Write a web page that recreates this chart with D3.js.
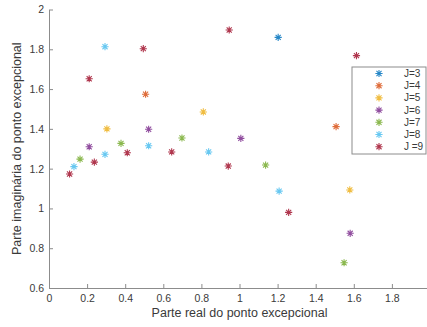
<!DOCTYPE html>
<html>
<head>
<meta charset="utf-8">
<script src="https://cdn.jsdelivr.net/npm/d3@7"></script>
<style>
  body { margin: 0; background: #fff; }
  svg { display: block; font-family: "Liberation Sans", Arial, sans-serif; }
</style>
</head>
<body>
<div id="chart"></div>
<script>
// series labels + colours (matlab default order)
const seriesNames = ['J=3', 'J=4', 'J=5', 'J=6', 'J=7', 'J=8', 'J =9'];
const seriesColors = ['#0072BD', '#D95319', '#EDB120', '#7E2F8E', '#77AC30', '#4DBEEE', '#A2142F'];

// [real, imag] points, one array per J
const j3 = [[1.203, 1.86]];
const j4 = [[0.507, 1.574], [1.507, 1.411]];
const j5 = [[0.304, 1.40], [0.81, 1.485], [1.579, 1.093]];
const j6 = [[0.211, 1.31], [0.523, 1.398], [1.007, 1.352], [1.581, 0.875]];
const j7 = [[0.163, 1.248], [0.378, 1.327], [0.698, 1.354], [1.137, 1.218], [1.549, 0.727]];
const j8 = [[0.131, 1.21], [0.294, 1.272], [0.294, 1.813], [0.523, 1.315], [0.838, 1.284], [1.208, 1.087]];
const j9 = [[0.108, 1.173], [0.238, 1.233], [0.211, 1.652], [0.411, 1.28], [0.495, 1.803],
            [0.644, 1.284], [0.941, 1.213], [0.946, 1.897], [1.258, 0.98], [1.614, 1.768]];

const xTicks = [0, 0.2, 0.4, 0.6, 0.8, 1, 1.2, 1.4, 1.6, 1.8, 2];
const yTicks = [0.6, 0.8, 1, 1.2, 1.4, 1.6, 1.8, 2];

const series = [j3, j4, j5, j6, j7, j8, j9].map((pts, i) => ({name: seriesNames[i], color: seriesColors[i], pts}));

const width = 427, height = 327;
const margin = {top: 9.5, left: 49, bottom: 39, right: -3};
const cw = width - margin.left - margin.right, ch = height - margin.top - margin.bottom;

const x = d3.scaleLinear().domain([0, 2]).range([0, cw]);
const y = d3.scaleLinear().domain([0.6, 2]).range([ch, 0]);

// matlab '*' marker: 4 crossing strokes
const star = (r) => {
  const d = r * Math.SQRT1_2;
  return `M${-r},0L${r},0M0,${-r}L0,${r}M${-d},${-d}L${d},${d}M${-d},${d}L${d},${-d}`;
};

const svg = d3.select('#chart').append('svg')
  .attr('width', width).attr('height', height);

const g = svg.append('g').attr('transform', `translate(${margin.left},${margin.top})`);

const axisCol = '#8c8c8c', txtCol = '#3a3a3a';

const xAxis = g.append('g').attr('transform', `translate(0,${ch})`)
  .call(d3.axisBottom(x).tickValues(xTicks).tickFormat(d3.format('~g')).tickSizeInner(-4).tickSizeOuter(0).tickPadding(7));
const yAxis = g.append('g')
  .call(d3.axisLeft(y).tickValues(yTicks).tickFormat(d3.format('~g')).tickSizeInner(-4).tickSizeOuter(0).tickPadding(5));

[xAxis, yAxis].forEach(a => {
  a.select('.domain').attr('stroke', axisCol);
  a.selectAll('.tick line').attr('stroke', axisCol);
  a.selectAll('.tick text').attr('fill', txtCol).style('font-size', '10.5px');
});

// points
g.selectAll('g.series')
  .data(series)
  .join('g').attr('class', 'series')
  .each(function(s) {
    d3.select(this).selectAll('path')
      .data(s.pts)
      .join('path')
      .attr('transform', d => `translate(${x(d[0])},${y(d[1])})`)
      .attr('d', star(3.6))
      .attr('stroke', s.color)
      .attr('stroke-opacity', 0.85)
      .attr('stroke-width', 1.1)
      .attr('fill', 'none');
  });

// axis titles
svg.append('text')
  .attr('x', margin.left + x(1.0)).attr('y', 317)
  .attr('text-anchor', 'middle').attr('fill', txtCol)
  .style('font-size', '12.5px')
  .text('Parte real do ponto excepcional');

svg.append('text')
  .attr('transform', `translate(21,${margin.top + y(1.3)}) rotate(-90)`)
  .attr('text-anchor', 'middle').attr('fill', txtCol)
  .style('font-size', '12.5px')
  .text('Parte imaginária do ponto excepcional');

// legend
const leg = svg.append('g').attr('transform', 'translate(352,67)');
leg.append('rect')
  .attr('width', 74).attr('height', 87)
  .attr('fill', '#fff').attr('stroke', '#8c8c8c').attr('stroke-width', 1);

const item = leg.selectAll('g.item')
  .data(series)
  .join('g').attr('class', 'item')
  .attr('transform', (d, i) => `translate(0,${6.5 + i * 12.2})`);

item.append('path')
  .attr('transform', 'translate(27,0)')
  .attr('d', star(3.6))
  .attr('stroke', d => d.color).attr('stroke-opacity', 0.85)
  .attr('stroke-width', 1.1).attr('fill', 'none');

item.append('text')
  .attr('x', 52).attr('dy', '0.35em')
  .attr('fill', txtCol).style('font-size', '10px')
  .text(d => d.name);
</script>
</body>
</html>
